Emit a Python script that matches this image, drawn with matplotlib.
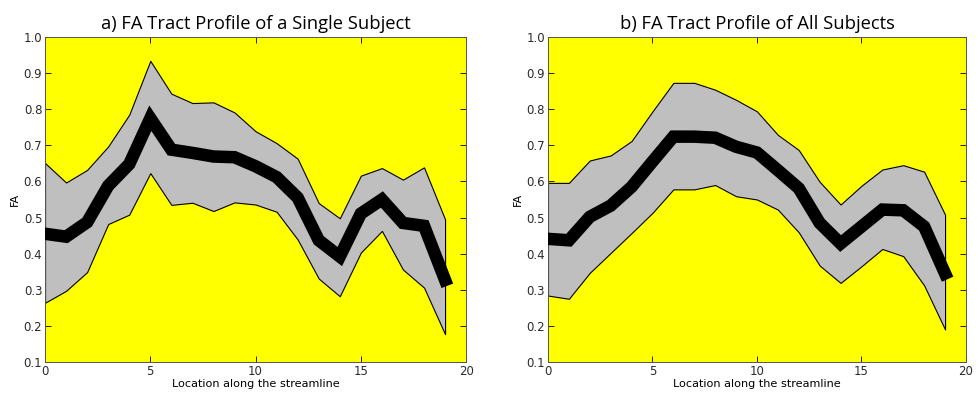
import matplotlib
matplotlib.use("Agg")
import matplotlib.pyplot as plt

# --- data ---
x = list(range(20))

single_mean = [0.455, 0.447, 0.487, 0.588, 0.648, 0.775, 0.688, 0.679, 0.669, 0.667,
               0.642, 0.612, 0.555, 0.437, 0.392, 0.511, 0.550, 0.485, 0.477, 0.327]
single_upper = [0.651, 0.597, 0.632, 0.697, 0.785, 0.934, 0.843, 0.817, 0.819, 0.791,
                0.739, 0.706, 0.663, 0.540, 0.498, 0.616, 0.637, 0.605, 0.639, 0.495]
single_lower = [0.264, 0.297, 0.349, 0.482, 0.508, 0.623, 0.535, 0.541, 0.518, 0.542,
                0.536, 0.516, 0.439, 0.331, 0.282, 0.403, 0.463, 0.356, 0.306, 0.177]

all_mean = [0.441, 0.437, 0.502, 0.533, 0.585, 0.655, 0.724, 0.724, 0.721, 0.696,
            0.680, 0.631, 0.581, 0.485, 0.428, 0.475, 0.522, 0.520, 0.475, 0.345]
all_upper = [0.596, 0.596, 0.658, 0.672, 0.712, 0.794, 0.873, 0.873, 0.854, 0.826,
             0.794, 0.729, 0.687, 0.599, 0.536, 0.588, 0.633, 0.645, 0.627, 0.508]
all_lower = [0.284, 0.275, 0.347, 0.402, 0.457, 0.513, 0.578, 0.578, 0.590, 0.559,
             0.550, 0.522, 0.459, 0.367, 0.319, 0.365, 0.413, 0.393, 0.312, 0.190]

titles = ["a) FA Tract Profile of a Single Subject", "b) FA Tract Profile of All Subjects"]
xticks = [0, 5, 10, 15, 20]
yticks = [0.1, 0.2, 0.3, 0.4, 0.5, 0.6, 0.7, 0.8, 0.9, 1.0]


def draw_panel(ax, mean, upper, lower, title):
    ax.set_facecolor("#ffff00")
    ax.fill_between(x, lower, upper, facecolor="#bfbfbf", edgecolor="black",
                    linewidth=0.8, zorder=2)
    ax.plot(x, mean, color="black", linewidth=9, solid_capstyle="projecting",
            solid_joinstyle="miter", zorder=3)
    ax.set_xlim(0, 20)
    ax.set_ylim(0.1, 1.0)
    ax.set_xticks(xticks)
    ax.set_yticks(yticks)
    ax.set_xticklabels([str(t) for t in xticks])
    ax.set_yticklabels(["%.1f" % t for t in yticks])
    ax.tick_params(direction="in", top=True, right=True, length=4, width=0.6,
                   labelsize=8.5, labelcolor="#2a2a2a", pad=2)
    for s in ax.spines.values():
        s.set_linewidth(0.7)
        s.set_color("#555555")
    ax.set_xlabel("Location along the streamline", fontsize=8.1, labelpad=1)
    ax.set_ylabel("FA", fontsize=8.1, labelpad=3)
    ax.set_title(title, fontsize=13.2, family="Open Sans", pad=6)


fig = plt.figure(figsize=(9.77, 3.96), dpi=100)
ax1 = fig.add_axes([0.0461, 0.0859, 0.431, 0.8207])
ax2 = fig.add_axes([0.5609, 0.0859, 0.4278, 0.8207])

draw_panel(ax1, single_mean, single_upper, single_lower, titles[0])
draw_panel(ax2, all_mean, all_upper, all_lower, titles[1])

fig.savefig("out.png", dpi=100)
